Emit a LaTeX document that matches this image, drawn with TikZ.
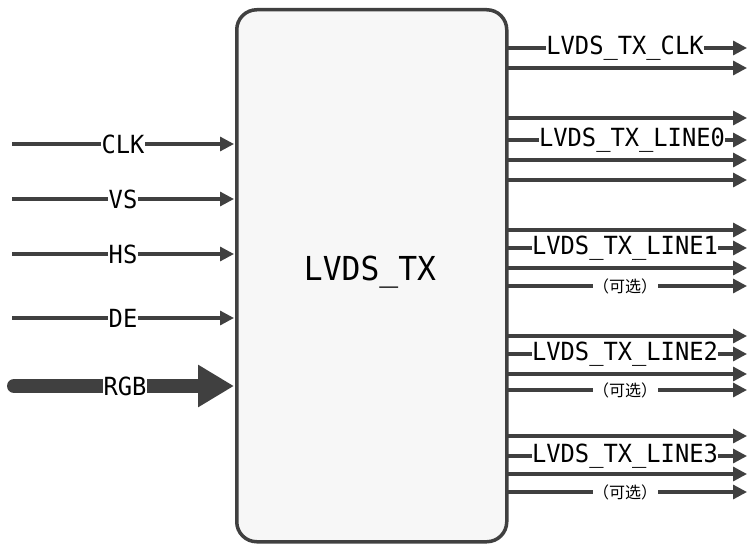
\documentclass[tikz,border=0pt]{standalone}
\usepackage{fontspec}
\setmainfont{DejaVu Sans Mono}[FakeStretch=0.95]
\newfontfamily\cjk{Noto Sans CJK SC}
\usetikzlibrary{arrows.meta}
\definecolor{ln}{HTML}{404040}
\begin{document}
\begin{tikzpicture}[x=1pt,y=-1pt,
 sig/.style={draw=ln,line width=3.2pt,-{Triangle[length=14pt,width=14pt]}},
 lab/.style={fill=white,inner sep=0.5pt,font=\fontsize{25}{25}\selectfont},
 opt/.style={fill=white,inner sep=0.5pt,font=\cjk\fontsize{16}{16}\selectfont}]
\useasboundingbox (0,0) rectangle (751,543);
\node[draw=ln,line width=3.5pt,fill=gray!6,rounded corners=20pt,minimum width=270pt,minimum height=532pt,anchor=north west] (box) at (235,8) {};
\node[font=\fontsize{33}{33}\selectfont] (title) at (370,272) {LVDS\_TX};
% inputs
\foreach \n/\y in {CLK/144,VS/199,HS/254,DE/318}{
 \coordinate (s\n) at (12,\y); \coordinate (e\n) at (234,\y);
 \draw[sig] (s\n) -- (e\n) node[lab,pos=0.5] {\n};
}
\coordinate (sRGB) at (14,386); \coordinate (eRGB) at (234,386);
\draw[ln,line width=14pt,line cap=round,-{Triangle[length=36pt,width=40pt]}] (sRGB) -- (eRGB);
\node[lab] (lRGB) at (125,386) {RGB};
% outputs
\foreach \y/\i in {48/a,68/b,118/c,140/d,160/e,180/f,230/g,248/h,268/i,286/j,336/k,354/l,374/m,390/n,436/o,456/p,474/q,492/r}{
 \coordinate (s\i) at (506,\y); \coordinate (e\i) at (747,\y);
 \draw[sig] (s\i) -- (e\i);
}
\node[lab] (lclk) at (625,48) {LVDS\_TX\_CLK};
\node[lab] (l0) at (632,140) {LVDS\_TX\_LINE0};
\node[lab] (l1) at (625,248) {LVDS\_TX\_LINE1};
\node[lab] (l2) at (625,354) {LVDS\_TX\_LINE2};
\node[lab] (l3) at (625,456) {LVDS\_TX\_LINE3};
\node[opt] (o1) at (625,286) {（可选）};
\node[opt] (o2) at (625,390) {（可选）};
\node[opt] (o3) at (625,492) {（可选）};
\end{tikzpicture}
\end{document}
